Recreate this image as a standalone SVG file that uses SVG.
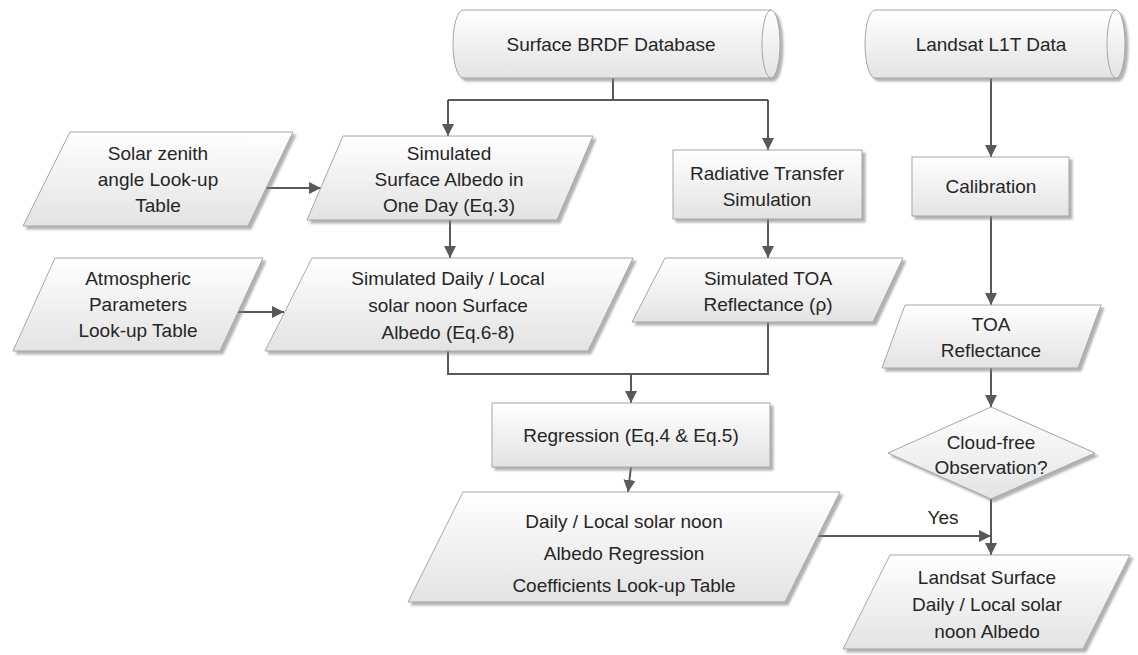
<svg xmlns="http://www.w3.org/2000/svg" width="1138" height="655" viewBox="0 0 1138 655">
<defs>
  <linearGradient id="g" x1="0" y1="0" x2="0" y2="1">
    <stop offset="0" stop-color="#ffffff"/>
    <stop offset="1" stop-color="#e3e3e3"/>
  </linearGradient>
  <filter id="sh" x="-10%" y="-10%" width="130%" height="140%">
    <feDropShadow dx="3" dy="3" stdDeviation="1.2" flood-color="#7f7f7f" flood-opacity="0.6"/>
  </filter>
  <marker id="arr" viewBox="0 0 12 12" refX="12" refY="6" markerWidth="12" markerHeight="12" markerUnits="userSpaceOnUse" orient="auto">
    <path d="M0,0 L12,6 L0,12 Z" fill="#595959"/>
  </marker>
</defs>
<style>
  .s{fill:url(#g);stroke:#a6a6a6;stroke-width:1;filter:url(#sh)}
  .cap{fill:none;stroke:#a6a6a6;stroke-width:1}
  .c{fill:none;stroke:#595959;stroke-width:2}
  .a{marker-end:url(#arr)}
  text{font-family:"Liberation Sans",Arial,sans-serif;font-size:19px;fill:#262626;text-anchor:middle}
</style>
<rect width="1138" height="655" fill="#ffffff"/>

<g id="connectors">
  <path class="c" d="M613,78 V100 M448,100 H768"/>
  <path class="c a" d="M448,100 V136"/>
  <path class="c a" d="M768,100 V150"/>
  <path class="c a" d="M266,188 H321"/>
  <path class="c a" d="M450,220 V258"/>
  <path class="c a" d="M238,312 H284"/>
  <path class="c a" d="M768,219 V258"/>
  <path class="c" d="M448,351 V374 H768 V322"/>
  <path class="c a" d="M631,374 V403"/>
  <path class="c a" d="M991,78 V157"/>
  <path class="c a" d="M991,216 V305"/>
  <path class="c a" d="M991,368 V407"/>
  <path class="c a" d="M991,499 V555"/>
  <path class="c a" d="M631,467 L628,492"/>
  <path class="c a" d="M818,536 H991"/>
  <text x="943" y="524">Yes</text>
</g>

<g id="brdf">
  <path class="s" d="M463,10 H771 A9,34 0 0,1 771,78 H463 A10,34 0 0,1 463,10 Z"/>
  <path class="cap" d="M771,10 A9,34 0 0,0 771,78"/>
  <text x="611" y="51">Surface BRDF Database</text>
</g>

<g id="landsat">
  <path class="s" d="M875,10 H1116 A9,34 0 0,1 1116,78 H875 A10,34 0 0,1 875,10 Z"/>
  <path class="cap" d="M1116,10 A9,34 0 0,0 1116,78"/>
  <text x="991" y="51">Landsat L1T Data</text>
</g>

<g id="solar">
  <polygon class="s" points="70,132 293,132 248,226 23,226"/>
  <text x="158" y="160">Solar zenith</text>
  <text x="158" y="186">angle Look-up</text>
  <text x="158" y="212">Table</text>
</g>

<g id="simsurf">
  <polygon class="s" points="343,136 593,136 557,220 307,220"/>
  <text x="449" y="160">Simulated</text>
  <text x="449" y="186">Surface Albedo in</text>
  <text x="449" y="212">One Day (Eq.3)</text>
</g>

<g id="radiative">
  <rect class="s" x="673" y="150" width="189" height="69"/>
  <text x="767" y="180">Radiative Transfer</text>
  <text x="767" y="206">Simulation</text>
</g>

<g id="calibration">
  <rect class="s" x="912" y="157" width="157" height="59"/>
  <text x="991" y="193">Calibration</text>
</g>

<g id="atmos">
  <polygon class="s" points="55,258 263,258 220,351 13,351"/>
  <text x="138" y="285">Atmospheric</text>
  <text x="138" y="311">Parameters</text>
  <text x="138" y="337">Look-up Table</text>
</g>

<g id="simdaily">
  <polygon class="s" points="312,258 633,258 588,351 265,351"/>
  <text x="448" y="285">Simulated Daily / Local</text>
  <text x="448" y="312">solar noon Surface</text>
  <text x="448" y="339">Albedo (Eq.6-8)</text>
</g>

<g id="simtoa">
  <polygon class="s" points="665,258 903,258 873,322 632,322"/>
  <text x="768" y="285">Simulated TOA</text>
  <text x="768" y="311">Reflectance (ρ)</text>
</g>

<g id="toa">
  <polygon class="s" points="905,305 1101,305 1078,368 882,368"/>
  <text x="991" y="331">TOA</text>
  <text x="991" y="357">Reflectance</text>
</g>

<g id="cloud">
  <polygon class="s" points="991,407 1095,453 991,499 888,453"/>
  <text x="991" y="449">Cloud-free</text>
  <text x="991" y="474">Observation?</text>
</g>

<g id="regression">
  <rect class="s" x="492" y="403" width="278" height="64"/>
  <text x="631" y="442">Regression (Eq.4 &amp; Eq.5)</text>
</g>

<g id="coeff">
  <polygon class="s" points="463,492 840,492 785,602 408,602"/>
  <text x="624" y="528">Daily / Local solar noon</text>
  <text x="624" y="560">Albedo Regression</text>
  <text x="624" y="592">Coefficients Look-up Table</text>
</g>

<g id="landsatsurf">
  <polygon class="s" points="890,555 1130,555 1083,649 843,649"/>
  <text x="987" y="584">Landsat Surface</text>
  <text x="987" y="611">Daily / Local solar</text>
  <text x="987" y="638">noon Albedo</text>
</g>
</svg>
